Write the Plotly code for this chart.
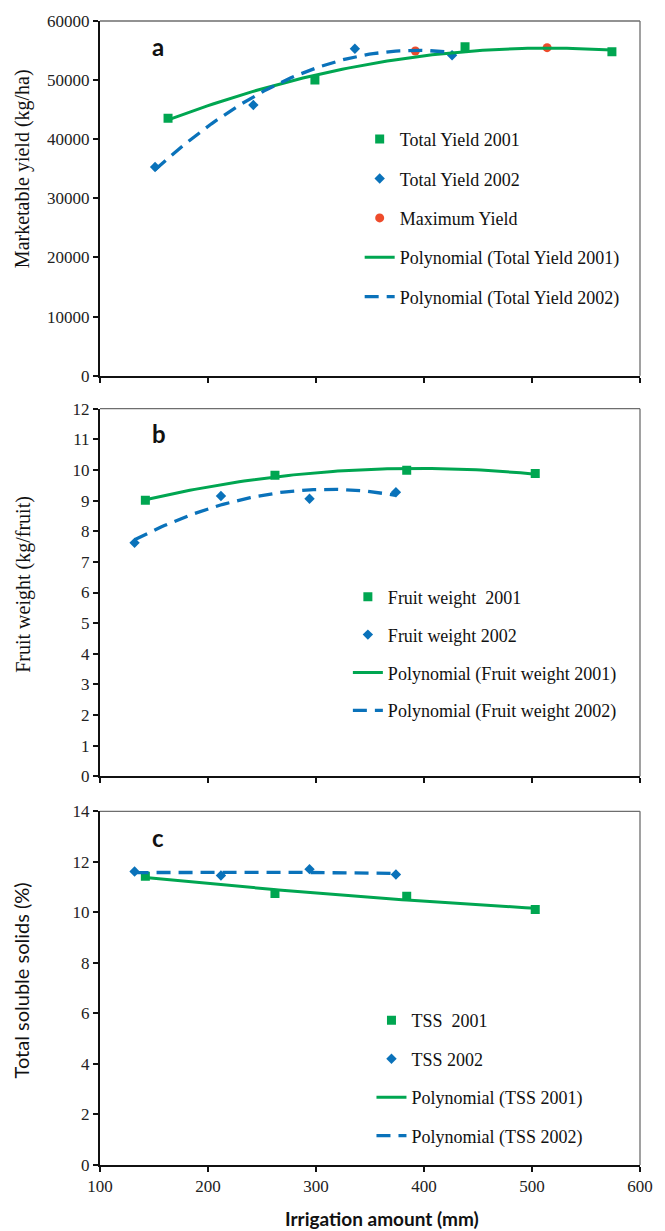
import numpy as np
import plotly.graph_objects as go

# ---------------- data ----------------
# Panel a: marketable yield (kg/ha)
irr_a_2001 = [163, 299, 438, 574]
yield_2001 = [43550, 50000, 55660, 54800]
irr_a_2002 = [151, 242, 336, 426]
yield_2002 = [35300, 45800, 55300, 54200]
irr_max = [392, 514]
yield_max = [54930, 55490]

# Panels b and c: irrigation amounts
irr_bc_2001 = [142, 262, 384, 503]
irr_bc_2002 = [132, 212, 294, 374]
# Panel b: fruit weight (kg/fruit)
fw_2001 = [9.01, 9.83, 9.99, 9.88]
fw_2002 = [7.62, 9.15, 9.06, 9.27]
# Panel c: total soluble solids (%)
tss_2001 = [11.43, 10.75, 10.64, 10.11]
tss_2002 = [11.62, 11.46, 11.71, 11.50]

x_ticks = [100, 200, 300, 400, 500, 600]
yield_ticks = [0, 10000, 20000, 30000, 40000, 50000, 60000]

# ---------------- style ----------------
GREEN = "#00A651"
BLUE = "#0A72BA"
RED = "#EE4B2B"
SERIF = "Liberation Serif, 'Times New Roman', Times, serif"
SANS = "Lato, Carlito, sans-serif"

W, H = 665, 1231
ML, MR, MT, MB = 100, 16, 20, 66
PH = H - MT - MB
PW = W - ML - MR


def ypap(px):
    return (H - MB - px) / PH


def xpap(px):
    return (px - ML) / PW


def trend(xs, ys, n=80):
    c = np.polyfit(xs, ys, 2)
    xx = np.linspace(min(xs), max(xs), n)
    return xx, np.polyval(c, xx)


fig = go.Figure()


def add_panel(row, xs1, ys1, xs2, ys2, names, legend):
    xa = "x" if row == 1 else f"x{row}"
    ya = "y" if row == 1 else f"y{row}"
    fig.add_trace(go.Scatter(x=xs1, y=ys1, mode="markers", name=names[0],
                             marker=dict(symbol="square", size=9, color=GREEN),
                             xaxis=xa, yaxis=ya, legend=legend, legendgroup=names[0]))
    fig.add_trace(go.Scatter(x=xs2, y=ys2, mode="markers", name=names[1],
                             marker=dict(symbol="diamond", size=8, color=BLUE),
                             xaxis=xa, yaxis=ya, legend=legend, legendgroup=names[1]))
    return xa, ya


def add_trends(xa, ya, xs1, ys1, xs2, ys2, names, legend):
    tx, ty = trend(xs1, ys1)
    fig.add_trace(go.Scatter(x=tx, y=ty, mode="lines", name=names[0],
                             line=dict(color=GREEN, width=3),
                             xaxis=xa, yaxis=ya, legend=legend, legendgroup=names[0]))
    tx, ty = trend(xs2, ys2)
    fig.add_trace(go.Scatter(x=tx, y=ty, mode="lines", name=names[1],
                             line=dict(color=BLUE, width=3.3, dash="14px,8px"),
                             xaxis=xa, yaxis=ya, legend=legend, legendgroup=names[1]))


# Panel a
xa, ya = add_panel(1, irr_a_2001, yield_2001, irr_a_2002, yield_2002,
                   ["Total Yield 2001", "Total Yield 2002"], "legend")
fig.add_trace(go.Scatter(x=irr_max, y=yield_max, mode="markers", name="Maximum Yield",
                         marker=dict(symbol="circle", size=9, color=RED),
                         xaxis=xa, yaxis=ya, legend="legend", legendgroup="max"))
add_trends(xa, ya, irr_a_2001, yield_2001, irr_a_2002, yield_2002,
           ["Polynomial (Total Yield 2001)", "Polynomial (Total Yield 2002)"], "legend")

# Panel b
xa, ya = add_panel(2, irr_bc_2001, fw_2001, irr_bc_2002, fw_2002,
                   ["Fruit weight  2001", "Fruit weight 2002"], "legend2")
add_trends(xa, ya, irr_bc_2001, fw_2001, irr_bc_2002, fw_2002,
           ["Polynomial (Fruit weight 2001)", "Polynomial (Fruit weight 2002)"], "legend2")

# Panel c
xa, ya = add_panel(3, irr_bc_2001, tss_2001, irr_bc_2002, tss_2002,
                   ["TSS  2001", "TSS 2002"], "legend3")
add_trends(xa, ya, irr_bc_2001, tss_2001, irr_bc_2002, tss_2002,
           ["Polynomial (TSS 2001)", "Polynomial (TSS 2002)"], "legend3")

tickfont = dict(family=SERIF, size=17, color="#222222")
axis_common = dict(showline=True, linecolor="#111111", linewidth=2, ticks="outside",
                   ticklen=5, tickwidth=1.5, tickcolor="#111111", showgrid=False,
                   zeroline=False, tickfont=tickfont, tickformat="d")

xcommon = dict(axis_common, range=[100, 600], tickvals=x_ticks, domain=[0, 1])


def legend_cfg(xpx, ypx, gap):
    return dict(font=dict(family=SERIF, size=18, color="#111111"),
                bgcolor="rgba(0,0,0,0)", xanchor="left", yanchor="top",
                tracegroupgap=gap, itemwidth=30, x=xpap(xpx), y=ypap(ypx))


fig.update_layout(
    width=W, height=H,
    margin=dict(l=ML, r=MR, t=MT, b=MB),
    paper_bgcolor="white", plot_bgcolor="white",
    font=dict(family=SERIF),
    xaxis=dict(xcommon, anchor="y", showticklabels=False),
    xaxis2=dict(xcommon, anchor="y2", showticklabels=False),
    xaxis3=dict(xcommon, anchor="y3"),
    yaxis=dict(axis_common, anchor="x", domain=[ypap(375), ypap(20)],
               range=[0, 60000], tickvals=yield_ticks),
    yaxis2=dict(axis_common, anchor="x2", domain=[ypap(776), ypap(408)],
                range=[0, 12], dtick=1),
    yaxis3=dict(axis_common, anchor="x3", domain=[ypap(1165), ypap(811)],
                range=[0, 14], dtick=2),
    legend=legend_cfg(364, 120, 13),
    legend2=legend_cfg(352, 578, 11.5),
    legend3=legend_cfg(376, 1002, 12),
    showlegend=True,
)

# top / right frame lines
for xr, yr in [("x", "y"), ("x2", "y2"), ("x3", "y3")]:
    fig.add_shape(type="line", xref=f"{xr} domain", yref=f"{yr} domain",
                  x0=0, x1=1, y0=1, y1=1, line=dict(color="#6e6e6e", width=1.3))
    fig.add_shape(type="line", xref=f"{xr} domain", yref=f"{yr} domain",
                  x0=1, x1=1, y0=0, y1=1, line=dict(color="#6e6e6e", width=1.3))

# axis titles
fig.add_annotation(text="Marketable yield (kg/ha)", xref="paper", yref="paper",
                   x=xpap(22), y=ypap(168), textangle=-90, showarrow=False,
                   xanchor="center", yanchor="middle",
                   font=dict(family=SERIF, size=20, color="#111111"))
fig.add_annotation(text="Fruit weight (kg/fruit)", xref="paper", yref="paper",
                   x=xpap(22), y=ypap(584), textangle=-90, showarrow=False,
                   xanchor="center", yanchor="middle",
                   font=dict(family=SERIF, size=20, color="#111111"))
fig.add_annotation(text="Total soluble solids (%)", xref="paper", yref="paper",
                   x=xpap(20), y=ypap(980), textangle=-90, showarrow=False,
                   xanchor="center", yanchor="middle",
                   font=dict(family=SANS, size=20, color="#111111"))
fig.add_annotation(text="<b>Irrigation amount (mm)</b>", xref="paper", yref="paper",
                   x=xpap(387), y=ypap(1219), showarrow=False,
                   xanchor="center", yanchor="middle",
                   font=dict(family=SANS, size=19, color="#111111"))

# panel letters
for letter, px, py in [("a", 159, 46), ("b", 160, 433), ("c", 159, 837)]:
    fig.add_annotation(text=f"<b>{letter}</b>", xref="paper", yref="paper",
                       x=xpap(px), y=ypap(py), showarrow=False,
                       xanchor="center", yanchor="middle",
                       font=dict(family=SANS, size=24, color="#111111"))

fig.write_html("out.html", config={"displayModeBar": False},
               post_script="document.body.style.margin='0px';document.body.style.overflow='hidden';")
